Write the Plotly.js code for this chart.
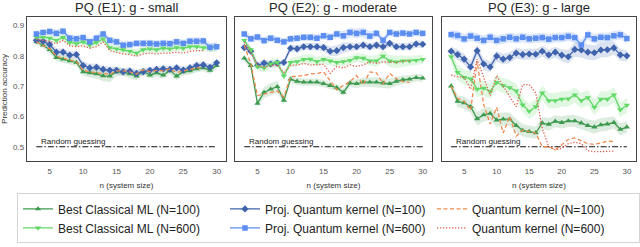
<!DOCTYPE html>
<html>
<head>
<meta charset="utf-8">
<script src="https://cdn.plot.ly/plotly-3.0.1.min.js"></script>
<style>
html,body{margin:0;padding:0;background:#fff;}
#chart{width:640px;height:247px;}
</style>
</head>
<body>
<div id="chart"></div>
<script>
// ---------- DATA ----------
const panelTitles = ['PQ (E1): g - small', 'PQ (E2): g - moderate', 'PQ (E3): g - large'];
const seriesNames = ['Best Classical ML (N=100)', 'Proj. Quantum kernel (N=100)', 'Quantum kernel (N=100)',
                     'Best Classical ML (N=600)', 'Proj. Quantum kernel (N=600)', 'Quantum kernel (N=600)'];
const nSize = [3,4,5,6,7,8,9,10,11,12,13,14,15,16,17,18,19,20,21,22,23,24,25,26,27,28,29,30];
const nSizeQK = [3,4,5,6,7,8,9,10,11,12,13,14,15,16,17,18,19,20,21,22,23,24,25,26,27,28];
const randomLevel = 0.5;
const randomSpan = [3, 30];
const xTicks = [5,10,15,20,25,30];
const yTicks = [0.5,0.6,0.7,0.8,0.9];
const yTickText = ['0.5','0.6','0.7','0.8','0.9'];

// E1 : g - small
const e1_bcml100 = [0.846,0.835,0.820,0.794,0.789,0.783,0.778,0.747,0.744,0.740,0.734,0.733,0.747,0.747,0.740,0.733,0.750,0.736,0.744,0.736,0.752,0.733,0.747,0.750,0.757,0.760,0.752,0.768];
const e1_pqk100  = [0.851,0.848,0.837,0.812,0.812,0.802,0.804,0.768,0.760,0.762,0.755,0.752,0.752,0.747,0.750,0.742,0.747,0.752,0.755,0.757,0.755,0.760,0.753,0.760,0.768,0.770,0.762,0.777];
const e1_qk100   = [0.846,0.835,0.823,0.799,0.792,0.786,0.781,0.752,0.747,0.744,0.740,0.739,0.750,0.750,0.747,0.740,0.754,0.747,0.752,0.750,0.757,0.744,0.750,0.754,0.760,0.760];
const e1_bcml600 = [0.861,0.861,0.858,0.851,0.861,0.844,0.840,0.846,0.835,0.844,0.856,0.827,0.823,0.820,0.815,0.809,0.820,0.823,0.820,0.825,0.823,0.827,0.825,0.830,0.830,0.827,0.825,0.830];
const e1_pqk600  = [0.872,0.877,0.880,0.874,0.881,0.858,0.856,0.860,0.846,0.858,0.872,0.851,0.846,0.835,0.837,0.841,0.841,0.841,0.839,0.841,0.840,0.846,0.841,0.848,0.848,0.849,0.828,0.830];
const e1_qk600   = [0.854,0.851,0.848,0.840,0.851,0.833,0.830,0.833,0.825,0.830,0.846,0.817,0.812,0.806,0.804,0.799,0.806,0.809,0.806,0.809,0.809,0.812,0.809,0.815,0.817,0.817];
const e1_bcml100_err = [0.008,0.010,0.012,0.012,0.012,0.012,0.012,0.014,0.015,0.016,0.018,0.020,0.015,0.013,0.013,0.014,0.012,0.012,0.012,0.012,0.012,0.014,0.012,0.012,0.011,0.011,0.012,0.012];
const e1_pqk100_err  = [0.008,0.010,0.012,0.012,0.012,0.012,0.012,0.014,0.014,0.013,0.012,0.012,0.012,0.012,0.012,0.012,0.012,0.011,0.011,0.011,0.011,0.011,0.011,0.011,0.011,0.011,0.012,0.012];
const e1_bcml600_err = [0.010,0.010,0.011,0.012,0.012,0.012,0.012,0.012,0.012,0.012,0.012,0.012,0.012,0.012,0.012,0.012,0.012,0.012,0.012,0.012,0.012,0.012,0.012,0.012,0.012,0.012,0.013,0.013];
const e1_pqk600_err  = [0.010,0.010,0.011,0.012,0.012,0.012,0.012,0.012,0.012,0.012,0.012,0.012,0.012,0.012,0.012,0.012,0.012,0.012,0.012,0.012,0.012,0.012,0.012,0.012,0.012,0.012,0.015,0.015];

// E2 : g - moderate
const e2_bcml100 = [0.792,0.768,0.643,0.679,0.690,0.698,0.653,0.723,0.716,0.713,0.713,0.713,0.708,0.702,0.695,0.679,0.710,0.708,0.713,0.713,0.713,0.710,0.708,0.716,0.721,0.723,0.728,0.726];
const e2_pqk100  = [0.827,0.815,0.768,0.776,0.773,0.776,0.778,0.825,0.823,0.830,0.830,0.830,0.827,0.815,0.817,0.827,0.830,0.830,0.835,0.830,0.835,0.830,0.841,0.830,0.830,0.830,0.839,0.838];
const e2_qk100   = [0.835,0.773,0.669,0.674,0.679,0.684,0.664,0.731,0.733,0.735,0.740,0.742,0.747,0.716,0.688,0.702,0.715,0.735,0.705,0.747,0.744,0.708,0.742,0.725,0.715,0.712];
const e2_bcml600 = [0.851,0.820,0.764,0.760,0.773,0.778,0.733,0.778,0.781,0.788,0.789,0.781,0.788,0.783,0.778,0.781,0.785,0.794,0.792,0.783,0.783,0.799,0.783,0.780,0.783,0.783,0.785,0.788];
const e2_pqk600  = [0.872,0.856,0.862,0.850,0.858,0.851,0.846,0.856,0.858,0.861,0.861,0.858,0.866,0.861,0.872,0.866,0.877,0.874,0.877,0.865,0.874,0.851,0.877,0.872,0.875,0.872,0.877,0.874];
const e2_qk600   = [0.845,0.810,0.768,0.762,0.768,0.770,0.745,0.768,0.770,0.775,0.770,0.770,0.772,0.742,0.765,0.760,0.770,0.765,0.770,0.780,0.775,0.780,0.778,0.778,0.782,0.785];
const e2_bcml100_err = [0.010,0.012,0.012,0.018,0.020,0.020,0.015,0.012,0.012,0.012,0.012,0.012,0.012,0.012,0.012,0.012,0.013,0.014,0.015,0.016,0.016,0.016,0.016,0.015,0.014,0.013,0.012,0.012];
const e2_pqk100_err  = [0.010,0.012,0.012,0.012,0.010,0.010,0.010,0.012,0.012,0.012,0.012,0.012,0.012,0.016,0.018,0.018,0.014,0.012,0.012,0.012,0.012,0.012,0.012,0.012,0.012,0.012,0.012,0.012];
const e2_bcml600_err = [0.010,0.012,0.012,0.014,0.015,0.016,0.014,0.014,0.015,0.016,0.016,0.016,0.015,0.014,0.014,0.014,0.014,0.015,0.016,0.016,0.018,0.020,0.020,0.020,0.018,0.016,0.015,0.015];
const e2_pqk600_err  = [0.012,0.012,0.012,0.012,0.012,0.012,0.012,0.012,0.012,0.012,0.012,0.012,0.012,0.012,0.012,0.016,0.016,0.016,0.016,0.016,0.012,0.012,0.012,0.012,0.012,0.012,0.012,0.012];

// E3 : g - large
const e3_bcml100 = [0.700,0.650,0.645,0.632,0.592,0.605,0.610,0.588,0.591,0.591,0.570,0.554,0.550,0.546,0.578,0.574,0.584,0.580,0.585,0.585,0.578,0.570,0.565,0.572,0.575,0.580,0.557,0.565];
const e3_pqk100  = [0.815,0.804,0.789,0.763,0.817,0.773,0.763,0.799,0.789,0.794,0.809,0.804,0.806,0.805,0.815,0.803,0.812,0.802,0.797,0.821,0.819,0.812,0.810,0.819,0.820,0.826,0.803,0.800];
const e3_qk100   = [0.700,0.660,0.650,0.620,0.780,0.640,0.575,0.630,0.545,0.600,0.535,0.555,0.550,0.545,0.500,0.500,0.490,0.508,0.524,0.529,0.519,0.510,0.508,0.512,0.519,0.517];
const e3_bcml600 = [0.797,0.745,0.729,0.724,0.690,0.693,0.683,0.712,0.702,0.695,0.684,0.638,0.617,0.632,0.678,0.652,0.652,0.657,0.658,0.671,0.652,0.662,0.630,0.657,0.657,0.671,0.622,0.637];
const e3_pqk600  = [0.870,0.867,0.856,0.865,0.858,0.851,0.861,0.851,0.856,0.861,0.856,0.861,0.856,0.858,0.860,0.855,0.860,0.860,0.864,0.860,0.836,0.869,0.856,0.861,0.860,0.866,0.869,0.857];
const e3_qk600   = [0.736,0.731,0.729,0.690,0.789,0.730,0.669,0.734,0.700,0.669,0.632,0.705,0.705,0.677,0.560,0.500,0.490,0.495,0.510,0.515,0.510,0.487,0.484,0.484,0.485,0.486];
const e3_bcml100_err = [0.015,0.020,0.020,0.020,0.022,0.022,0.022,0.022,0.022,0.022,0.022,0.020,0.020,0.020,0.020,0.020,0.020,0.020,0.020,0.020,0.020,0.020,0.022,0.022,0.022,0.020,0.020,0.020];
const e3_pqk100_err  = [0.015,0.018,0.018,0.018,0.018,0.018,0.018,0.018,0.018,0.018,0.018,0.018,0.018,0.018,0.018,0.018,0.018,0.020,0.022,0.025,0.025,0.025,0.025,0.025,0.025,0.022,0.020,0.018];
const e3_bcml600_err = [0.020,0.025,0.025,0.025,0.025,0.025,0.025,0.025,0.025,0.025,0.025,0.025,0.025,0.025,0.025,0.025,0.025,0.025,0.025,0.025,0.025,0.025,0.025,0.025,0.025,0.025,0.025,0.025];
const e3_pqk600_err  = [0.015,0.016,0.016,0.016,0.016,0.016,0.016,0.016,0.016,0.016,0.016,0.016,0.016,0.016,0.016,0.016,0.016,0.016,0.016,0.016,0.016,0.016,0.016,0.016,0.016,0.016,0.016,0.016];

// ---------- STYLE ----------
const FONT = 'Liberation Sans, Arial, sans-serif';
const colBCML100 = '#3d9a4f';
const colBCML600 = '#62d868';
const colPQK100  = '#3f63ad';
const colPQK600  = '#5b8ef0';
const colQK100   = '#ee8a4e';
const colQK600   = '#e0604e';
const bandBCML100 = 'rgba(61,154,79,0.18)';
const bandBCML600 = 'rgba(98,216,104,0.20)';
const bandPQK100  = 'rgba(63,99,173,0.18)';
const bandPQK600  = 'rgba(91,142,240,0.20)';

const panels = [
  {bcml100:e1_bcml100, pqk100:e1_pqk100, qk100:e1_qk100, bcml600:e1_bcml600, pqk600:e1_pqk600, qk600:e1_qk600,
   eb100:e1_bcml100_err, ep100:e1_pqk100_err, eb600:e1_bcml600_err, ep600:e1_pqk600_err},
  {bcml100:e2_bcml100, pqk100:e2_pqk100, qk100:e2_qk100, bcml600:e2_bcml600, pqk600:e2_pqk600, qk600:e2_qk600,
   eb100:e2_bcml100_err, ep100:e2_pqk100_err, eb600:e2_bcml600_err, ep600:e2_pqk600_err},
  {bcml100:e3_bcml100, pqk100:e3_pqk100, qk100:e3_qk100, bcml600:e3_bcml600, pqk600:e3_pqk600, qk600:e3_qk600,
   eb100:e3_bcml100_err, ep100:e3_pqk100_err, eb600:e3_bcml600_err, ep600:e3_pqk600_err}
];

function band(xs, ys, err, color, xa, ya) {
  const up = ys.map((v, i) => v + err[i]);
  const lo = ys.map((v, i) => v - err[i]);
  return {
    x: xs.concat(xs.slice().reverse()),
    y: up.concat(lo.slice().reverse()),
    type: 'scatter', mode: 'lines', fill: 'toself', fillcolor: color,
    line: {width: 0, color: 'rgba(0,0,0,0)'}, hoverinfo: 'skip', showlegend: false,
    xaxis: xa, yaxis: ya
  };
}
function series(xs, ys, name, color, sym, dash, showLeg, xa, ya, withMarkers) {
  const t = {
    x: xs, y: ys, name: name, type: 'scatter',
    mode: withMarkers ? 'lines+markers' : 'lines',
    line: {color: color, width: 1.3, dash: dash},
    showlegend: showLeg, xaxis: xa, yaxis: ya, legendgroup: name
  };
  if (withMarkers) t.marker = {symbol: sym, size: 5.5, color: color, line: {width: 0}};
  return t;
}

const traces = [];
const annotations = [];
panels.forEach((p, k) => {
  const xa = k === 0 ? 'x' : 'x' + (k + 1);
  const ya = k === 0 ? 'y' : 'y' + (k + 1);
  traces.push(band(nSize, p.pqk600, p.ep600, bandPQK600, xa, ya));
  traces.push(band(nSize, p.bcml600, p.eb600, bandBCML600, xa, ya));
  traces.push(band(nSize, p.pqk100, p.ep100, bandPQK100, xa, ya));
  traces.push(band(nSize, p.bcml100, p.eb100, bandBCML100, xa, ya));
  traces.push({x: randomSpan, y: [randomLevel, randomLevel], type: 'scatter', mode: 'lines',
    line: {color: '#111', width: 1.2, dash: '6px,2px,1.5px,2px'}, showlegend: false, hoverinfo: 'skip',
    xaxis: xa, yaxis: ya});
  const leg = k === 0;
  traces.push(series(nSize, p.bcml100, seriesNames[0], colBCML100, 'triangle-up', 'solid', leg, xa, ya, true));
  traces.push(series(nSize, p.pqk100, seriesNames[1], colPQK100, 'diamond', 'solid', leg, xa, ya, true));
  traces.push(series(nSizeQK, p.qk100, seriesNames[2], colQK100, null, '4px,2.5px', leg, xa, ya, false));
  traces.push(series(nSize, p.bcml600, seriesNames[3], colBCML600, 'triangle-down', 'solid', leg, xa, ya, true));
  traces.push(series(nSize, p.pqk600, seriesNames[4], colPQK600, 'square', 'solid', leg, xa, ya, true));
  traces.push(series(nSizeQK, p.qk600, seriesNames[5], colQK600, null, '1.3px,1.7px', leg, xa, ya, false));

  annotations.push({text: panelTitles[k], xref: xa + ' domain', yref: ya + ' domain', x: 0.5, y: 1,
    xanchor: 'center', yanchor: 'bottom', yshift: 0, showarrow: false,
    font: {family: FONT, size: 13, color: '#262626'}});
  annotations.push({text: 'Random guessing', xref: xa, yref: ya, x: 3.4, y: randomLevel,
    xanchor: 'left', yanchor: 'bottom', yshift: -1, showarrow: false,
    font: {family: FONT, size: 8, color: '#222'}});
});

const domains = [[0, 0.3268], [0.3415, 0.665], [0.6814, 1]];
const layout = {
  width: 640, height: 247,
  margin: {l: 27, r: 4, t: 17, b: 78, pad: 0},
  paper_bgcolor: '#fff', plot_bgcolor: '#fff',
  font: {family: FONT, color: '#333'},
  showlegend: true,
  legend: {orientation: 'h', x: -0.008, xanchor: 'left', y: -0.225, yanchor: 'top',
    entrywidth: 162, entrywidthmode: 'pixels',
    font: {family: FONT, size: 12, color: '#222'},
    bordercolor: '#d4d4d4', borderwidth: 1, bgcolor: '#fff', traceorder: 'normal'},
  annotations: annotations
};
domains.forEach((d, k) => {
  const sx = k === 0 ? '' : String(k + 1);
  layout['xaxis' + sx] = {
    domain: d, anchor: 'y' + sx, range: [1.6, 31.4], tickvals: xTicks,
    showgrid: false, zeroline: false, showline: true, mirror: true,
    linecolor: '#444', linewidth: 1.2, ticks: '', ticklabelstandoff: 2,
    tickfont: {family: FONT, size: 8, color: '#555'},
    title: {text: 'n (system size)', font: {family: FONT, size: 8, color: '#333'}, standoff: 7}
  };
  layout['yaxis' + sx] = {
    domain: [0, 1], anchor: 'x' + sx, range: [0.453, 0.928], tickvals: yTicks, ticktext: yTickText,
    showgrid: false, zeroline: false, showline: true, mirror: true,
    linecolor: '#444', linewidth: 1.2, ticks: '', showticklabels: k === 0,
    tickfont: {family: FONT, size: 8, color: '#555'},
    title: k === 0 ? {text: 'Prediction accuracy', font: {family: FONT, size: 8, color: '#333'}, standoff: 4} : {text: ''}
  };
});

Plotly.newPlot('chart', traces, layout, {displayModeBar: false, staticPlot: true});
</script>
</body>
</html>
